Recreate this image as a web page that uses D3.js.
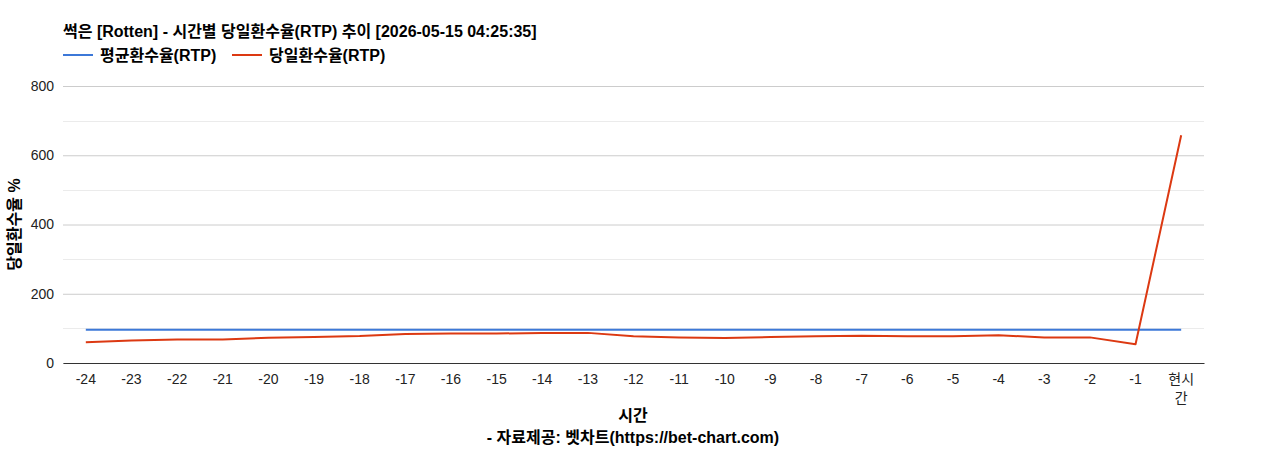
<!DOCTYPE html>
<html>
<head>
<meta charset="utf-8">
<script src="https://cdn.jsdelivr.net/npm/d3@7"></script>
<style>
  body { margin: 0; background: #fff; }
  svg text { font-family: "Liberation Sans", Arial, "Noto Sans CJK KR", sans-serif; }
  svg text.bold { font-weight: bold; font-size: 16px; }
</style>
</head>
<body>
<div id="chart"></div>
<script>
// chart data
var categories = ["-24","-23","-22","-21","-20","-19","-18","-17","-16","-15","-14","-13",
                  "-12","-11","-10","-9","-8","-7","-6","-5","-4","-3","-2","-1","현시간"];
var avgRtp   = [96,96,96,96,96,96,96,96,96,96,96,96,96,96,96,96,96,96,96,96,96,96,96,96,96];
var dailyRtp = [60,65,68,68,73,75,78,84,85,85,87,87,77,74,72,75,77,79,77,77,80,74,74,54,658];
var yTicks = [0,200,400,600,800];
var seriesNames = ["평균환수율(RTP)", "당일환수율(RTP)"];
var seriesColors = ["#3c78d8", "#dc3912"];
var titleText = "썩은 [Rotten] - 시간별 당일환수율(RTP) 추이 [2026-05-15 04:25:35]";

var W = 1268, H = 450;
var margin = {top: 86, right: 64, bottom: 87, left: 63},
    width = W - margin.left - margin.right,
    height = H - margin.top - margin.bottom;

var svg = d3.select("#chart").append("svg")
    .attr("width", W)
    .attr("height", H);

var g = svg.append("g")
    .attr("transform", "translate(" + margin.left + "," + margin.top + ")");

var x = d3.scaleBand().domain(categories).range([0, width]);
var y = d3.scaleLinear().domain([0, 800]).range([height, 0]);

// minor gridlines
g.append("g").selectAll("line")
    .data(d3.range(100, 800, 200))
  .enter().append("line")
    .attr("x1", 0).attr("x2", width)
    .attr("y1", function(d) { return Math.round(y(d)) + 0.5; })
    .attr("y2", function(d) { return Math.round(y(d)) + 0.5; })
    .attr("stroke", "#ebebeb");

// y axis + major gridlines
var yAxis = g.append("g")
    .call(d3.axisLeft(y).tickValues(yTicks).tickSize(-width).tickPadding(9));
yAxis.select(".domain").remove();
yAxis.selectAll(".tick line").attr("stroke", "#cccccc");
yAxis.selectAll(".tick text")
    .attr("fill", "#222").style("font-size", "14px");

// x axis
var xAxis = g.append("g")
    .attr("transform", "translate(0," + height + ")")
    .call(d3.axisBottom(x).tickSize(0).tickPadding(11));
xAxis.select(".domain").attr("stroke", "#333").attr("stroke-width", 1);
xAxis.selectAll(".tick text")
    .attr("fill", "#222").style("font-size", "14px")
    .each(function(d) {
      if (d.length > 2 && d[0] !== "-") {
        var t = d3.select(this).text(null);
        t.append("tspan").attr("x", 0).attr("dy", "0.71em").text(d.slice(0, 2));
        t.append("tspan").attr("x", 0).attr("dy", "1.35em").text(d.slice(2));
        t.attr("dy", null);
      }
    });

// lines
var line = d3.line()
    .x(function(d, i) { return x(categories[i]) + x.bandwidth() / 2; })
    .y(function(d) { return y(d); });

[avgRtp, dailyRtp].forEach(function(s, i) {
  g.append("path")
    .datum(s)
    .attr("fill", "none")
    .attr("stroke", seriesColors[i])
    .attr("stroke-width", 2)
    .attr("stroke-linejoin", "round")
    .attr("d", line);
});

// title
svg.append("text")
    .attr("class", "bold")
    .attr("x", 63).attr("y", 37)
    .attr("fill", "#000")
    .text(titleText);

// legend
var legendX = [63, 232];
seriesNames.forEach(function(n, i) {
  svg.append("line")
    .attr("x1", legendX[i]).attr("x2", legendX[i] + 30)
    .attr("y1", 55).attr("y2", 55)
    .attr("stroke", seriesColors[i]).attr("stroke-width", 2);
  svg.append("text")
    .attr("class", "bold")
    .attr("x", legendX[i] + 37).attr("y", 61)
    .text(n);
});

// axis titles
svg.append("text")
    .attr("class", "bold")
    .attr("transform", "translate(20," + (margin.top + height / 2) + ") rotate(-90)")
    .attr("text-anchor", "middle")
    .text("당일환수율 %");

svg.append("text")
    .attr("class", "bold")
    .attr("x", 633).attr("y", 421)
    .attr("text-anchor", "middle")
    .text("시간");

svg.append("text")
    .attr("class", "bold")
    .attr("x", 633).attr("y", 443)
    .attr("text-anchor", "middle")
    .text("- 자료제공: 벳차트(https://bet-chart.com)");
</script>
</body>
</html>
